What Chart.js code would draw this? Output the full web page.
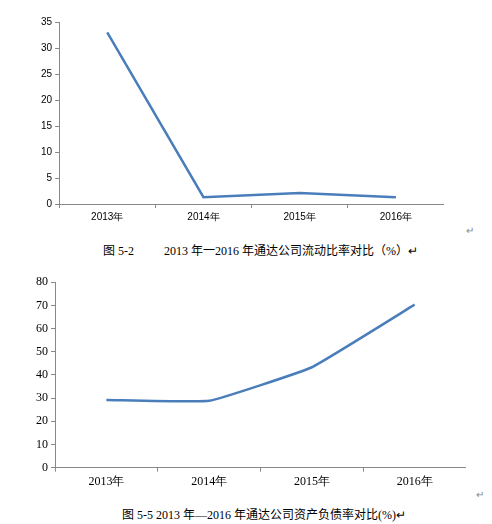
<!DOCTYPE html>
<html><head><meta charset="utf-8">
<script src="https://cdn.jsdelivr.net/npm/chart.js@4"></script>
<style>
body{margin:0;background:#fff;width:492px;height:524px;position:relative;overflow:hidden;font-family:"Noto Sans CJK SC",sans-serif}
.box{position:absolute}
.cap{position:absolute;font-size:12px;color:#000;white-space:pre}
.ret{position:absolute;font-size:10px;color:#888}
</style></head><body>
<div class="box" style="left:38px;top:13px;width:406px;height:213px"><canvas id="c1"></canvas></div>
<div class="box" style="left:33px;top:272px;width:433px;height:220px"><canvas id="c2"></canvas></div>
<div class="cap" style="left:103px;top:241px;font-family:'Liberation Serif','Noto Sans CJK SC'">图 5-2          2013 年一2016 年通达公司流动比率对比（%）↵</div>
<div class="ret" style="left:466px;top:222px">↵</div>
<div class="ret" style="left:476px;top:486px">↵</div>
<div class="cap" style="left:122px;top:505px;font-family:'Liberation Serif','Noto Sans CJK SC'">图 5-5 2013 年—2016 年通达公司资产负债率对比(%)↵</div>
<script>
const years = ["2013年", "2014年", "2015年", "2016年"];
const currentRatio = [33, 1.3, 2.1, 1.3];
const debtRatio = [29.2, 28.8, 43.3, 70.3];

function make(id, data, max, step, font, tension) {
  new Chart(document.getElementById(id), {
    type: 'line',
    data: {labels: years, datasets: [{data: data, borderColor: '#4a7ebb', borderWidth: 2.5, pointRadius: 0, tension: tension}]},
    options: {
      responsive: true, maintainAspectRatio: false, animation: false,
      plugins: {legend: {display: false}, tooltip: {enabled: false}},
      scales: {
        x: {offset: true, grid: {offset: true, drawOnChartArea: false, tickLength: 4, color: '#888'},
            border: {color: '#888'}, ticks: {color: '#000', font: font}},
        y: {min: 0, max: max, ticks: {stepSize: step, color: '#000', font: font},
            grid: {drawOnChartArea: false, tickLength: 4, color: '#888'}, border: {color: '#888'}}
      }
    }
  });
}
make('c1', currentRatio, 35, 5, {family: 'Liberation Sans', size: 10}, 0);
make('c2', debtRatio, 80, 10, {family: 'Liberation Serif', size: 12}, 0.1);
</script>
</body></html>
